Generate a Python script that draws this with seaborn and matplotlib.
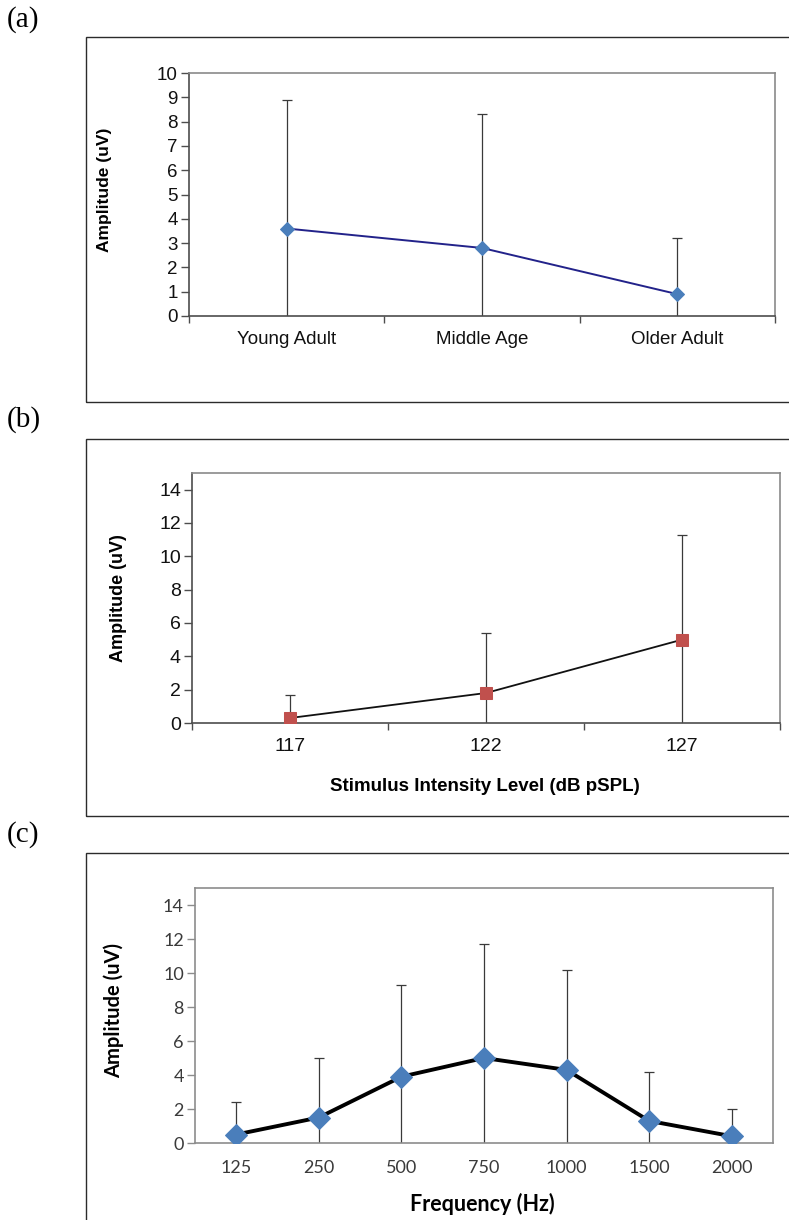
import numpy as np
import matplotlib
matplotlib.use("Agg")
import matplotlib.pyplot as plt
import seaborn as sns
from matplotlib.patches import Rectangle
from matplotlib.ticker import FixedLocator, NullFormatter

# ---------------- data ----------------
age_groups = ["Young Adult", "Middle Age", "Older Adult"]
age_mean = [3.6, 2.8, 0.9]
age_upper = [8.9, 8.3, 3.2]

intensity_levels = ["117", "122", "127"]
intensity_mean = [0.3, 1.8, 5.0]
intensity_upper = [1.7, 5.4, 11.3]

frequencies = ["125", "250", "500", "750", "1000", "1500", "2000"]
freq_mean = [0.5, 1.5, 3.9, 5.0, 4.3, 1.3, 0.4]
freq_upper = [2.4, 5.0, 9.3, 11.7, 10.2, 4.2, 2.0]

a_yticks = list(range(0, 11))
bc_yticks = list(range(0, 15, 2))

# ---------------- figure ----------------
sns.set_theme(style="white")
plt.rcParams["font.family"] = ["Liberation Sans", "DejaVu Sans"]

W, H = 789, 1220
fig = plt.figure(figsize=(W / 100, H / 100), dpi=100)
fig.patch.set_facecolor("white")


def fax(l, t, r, b):
    return [l / W, 1 - b / H, (r - l) / W, (b - t) / H]


def frame(t, b):
    fig.add_artist(Rectangle((86 / W, 1 - b / H), (820 - 86) / W, (b - t) / H,
                             transform=fig.transFigure, fill=False,
                             edgecolor="#2b2b2b", linewidth=1.0, clip_on=False))


frame(37, 402)
frame(439, 816)
frame(853, 1240)

for lab, y in [("(a)", 20), ("(b)", 420), ("(c)", 835)]:
    fig.text(7 / W, 1 - y / H, lab, family="Liberation Serif", fontsize=21,
             va="center", ha="left", color="black")


def style_axes(ax, n, spine_dark, spine_light, boundary_ticks, tick_font,
               tick_size, tick_color, xpad):
    ax.set_xlim(-0.5, n - 0.5)
    for s in ["left", "bottom"]:
        ax.spines[s].set_color(spine_dark)
        ax.spines[s].set_linewidth(1.2)
    for s in ["top", "right"]:
        ax.spines[s].set_color(spine_light)
        ax.spines[s].set_linewidth(1.2)
    ax.tick_params(axis="y", direction="out", length=6, width=1,
                   color=spine_dark, left=True, pad=2,
                   labelsize=tick_size, labelcolor=tick_color)
    ax.tick_params(axis="x", which="major", length=0, pad=xpad,
                   labelsize=tick_size, labelcolor=tick_color)
    if boundary_ticks:
        ax.xaxis.set_minor_locator(FixedLocator(np.arange(-0.5, n, 1.0)))
        ax.xaxis.set_minor_formatter(NullFormatter())
        ax.tick_params(axis="x", which="minor", direction="out", length=5,
                       width=1, color=spine_dark, bottom=True)
    for t in ax.get_xticklabels() + ax.get_yticklabels():
        t.set_fontfamily(tick_font)
    ax.grid(False)


def draw_panel(ax, cats, mean, upper, line_color, line_w, marker, mcolor, msize,
               ylim, yticks):
    x = np.arange(len(cats))
    mean = np.array(mean)
    err = np.array(upper) - mean
    ax.errorbar(x, mean, yerr=err, fmt="none", ecolor="#3a3a3a",
                elinewidth=0.9, capsize=3.5, capthick=0.9, zorder=2)
    sns.lineplot(x=x, y=mean, ax=ax, color=line_color, linewidth=line_w,
                 marker=marker, markersize=msize, markerfacecolor=mcolor,
                 markeredgecolor=mcolor, zorder=3)
    ax.set_ylim(*ylim)
    ax.set_yticks(yticks)
    ax.set_xticks(x)
    ax.set_xticklabels(cats)


# ---- panel (a)
axa = fig.add_axes(fax(189, 73, 775, 316))
draw_panel(axa, age_groups, age_mean, age_upper, "#22228a", 1.4, "D",
           "#4a7ebb", 7, (0, 10), a_yticks)
style_axes(axa, 3, "#4d4d4d", "#8a8a8a", True, "Liberation Sans", 13.5,
           "#111111", 10.5)
axa.set_ylabel("Amplitude (uV)", fontsize=12.5, fontweight="bold",
               family="Liberation Sans", color="black")
axa.yaxis.set_label_coords(-0.132, 0.52)
axa.set_xlabel("")

# ---- panel (b)
axb = fig.add_axes(fax(192, 473, 780, 723))
draw_panel(axb, intensity_levels, intensity_mean, intensity_upper, "#111111",
           1.3, "s", "#c0504d", 8, (0, 15), bc_yticks)
style_axes(axb, 3, "#4d4d4d", "#8a8a8a", True, "Liberation Sans", 14,
           "#111111", 10.5)
axb.set_ylabel("Amplitude (uV)", fontsize=13, fontweight="bold",
               family="Liberation Sans", color="black")
axb.yaxis.set_label_coords(-0.1105, 0.5)
axb.set_xlabel("Stimulus Intensity Level (dB pSPL)", fontsize=13.5,
               fontweight="bold", family="Liberation Sans", color="black")
axb.xaxis.set_label_coords(0.498, -0.22)

# ---- panel (c)
axc = fig.add_axes(fax(195, 888, 773, 1143))
draw_panel(axc, frequencies, freq_mean, freq_upper, "#000000", 2.8, "D",
           "#4a7ebb", 11, (0, 15), bc_yticks)
style_axes(axc, 7, "#8c8c8c", "#8c8c8c", False, "Lato", 13, "#3a3a3a", 12)
axc.set_ylabel("Amplitude (uV)", fontsize=14.5, fontweight="bold",
               family="Lato", color="black")
axc.yaxis.set_label_coords(-0.123, 0.52)
axc.set_xlabel("Frequency (Hz)", fontsize=15.5, fontweight="bold",
               family="Lato", color="black")
axc.xaxis.set_label_coords(0.497, -0.196)

fig.savefig("out.png", dpi=100, facecolor="white")
